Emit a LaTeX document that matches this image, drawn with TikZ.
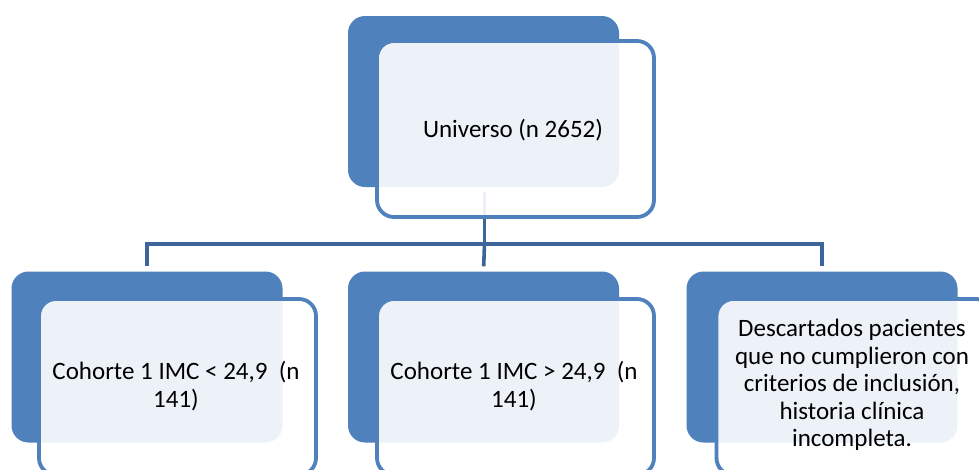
\documentclass[tikz,border=0pt]{standalone}
\usepackage{fontspec}
\setmainfont{Carlito}
\definecolor{accent}{RGB}{79,129,189}
\definecolor{linkblue}{RGB}{62,101,153}
\tikzset{
  x=1pt, y=-1pt,
  backbox/.style={draw=none, fill=accent, rounded corners=17pt,
    minimum width=271pt, minimum height=171pt, inner sep=0pt},
  frontbox/.style={draw=accent, line width=3.8pt, rounded corners=17pt,
    fill=white, fill opacity=0.9, draw opacity=1, text opacity=1,
    minimum width=277pt, minimum height=176pt, inner sep=0pt},
  label/.style={align=center, font=\fontsize{25}{27.5}\selectfont, text=black},
  link/.style={draw=linkblue, line width=3.6pt},
}
\begin{document}
\begin{tikzpicture}
\useasboundingbox (0,0) rectangle (979,469);
\fill[white] (0,0) rectangle (979,469);

% back panels
\node[backbox] (uB) at (483.5,101.5) {};
\node[backbox] (aB) at (147,357) {};
\node[backbox] (bB) at (483.5,357) {};
\node[backbox] (cB) at (822,357) {};

% tree connectors
\coordinate (j) at (484.5,244);
\draw[link, shorten >=5pt] (j -| aB.north) -- (aB.north);
\draw[link, shorten >=5pt] (j) -- (bB.north);
\draw[link, shorten >=5pt] (j -| cB.north) -- (cB.north);
\draw[link] ([xshift=-1.8pt]j -| aB.north) -- ([xshift=1.8pt]j -| cB.north);
\draw[link, shorten <=5pt] (uB.south) ++(1,0) coordinate (uS) -- (j);

% front panels with text
\node[frontbox] (uF) at (515.5,129) {};
\node[label] at (513,130) {Universo (n 2652)};

\node[frontbox] (aF) at (177.5,387) {};
\node[label] at (176,386) {Cohorte 1 IMC < 24,9~ (n\\141)};

\node[frontbox] (bF) at (515.5,387) {};
\node[label] at (514,386) {Cohorte 1 IMC > 24,9~ (n\\141)};

\node[frontbox] (cF) at (855,387) {};
\node[label] at (852,385) {Descartados pacientes\\que no cumplieron con\\criterios de inclusión,\\historia clínica\\incompleta.};
\end{tikzpicture}
\end{document}
